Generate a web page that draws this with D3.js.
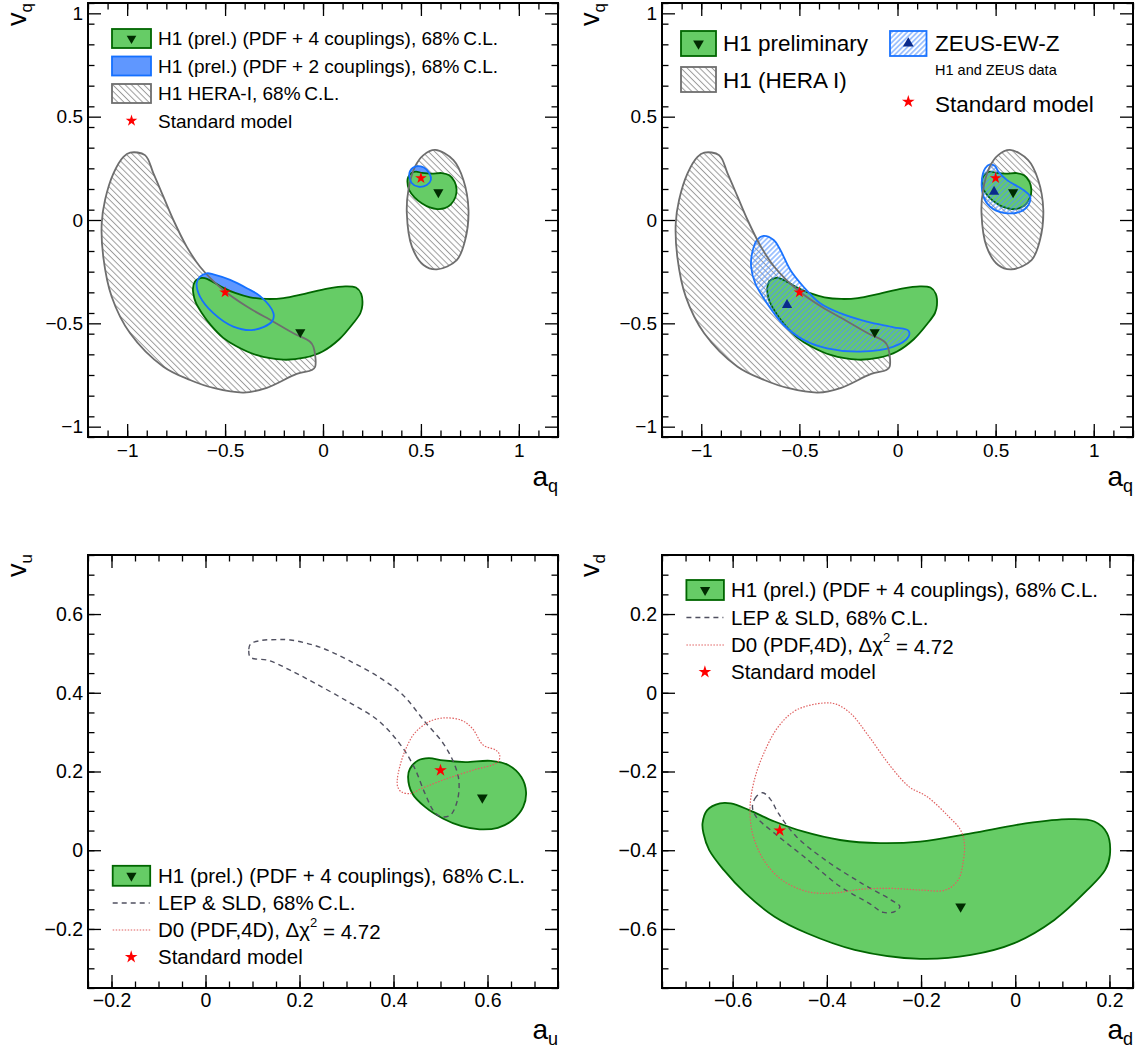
<!DOCTYPE html>
<html><head><meta charset="utf-8">
<script src="https://cdn.jsdelivr.net/npm/d3@7"></script>
<style>
body{margin:0;background:#fff}
svg{display:block}
text{font-family:"Liberation Sans",Arial,Helvetica,sans-serif;fill:#000}
</style>
</head><body>
<svg id="c" width="1139" height="1053"></svg>
<script>
// ---------------- DATA (a, v) ----------------
// H1 HERA-I 68% C.L. contours (q panels)
const heraI_d = [[-0.985,0.326],[-0.909,0.314],[-0.866,0.226],[-0.815,0.113],[-0.764,0.0],[-0.696,-0.129],[-0.628,-0.226],[-0.509,-0.339],[-0.389,-0.419],[-0.253,-0.492],[-0.151,-0.548],[-0.066,-0.589],[-0.049,-0.613],[-0.040,-0.710],[-0.057,-0.726],[-0.134,-0.745],[-0.287,-0.812],[-0.405,-0.835],[-0.554,-0.814],[-0.679,-0.774],[-0.815,-0.710],[-0.985,-0.548],[-1.079,-0.371],[-1.122,-0.178],[-1.130,-0.016],[-1.113,0.097],[-1.070,0.226],[-1.019,0.306]];
const heraI_u = [[0.573,0.339],[0.666,0.290],[0.717,0.194],[0.743,0.048],[0.726,-0.097],[0.683,-0.194],[0.581,-0.239],[0.513,-0.218],[0.454,-0.129],[0.428,0.032],[0.436,0.145],[0.470,0.258],[0.513,0.314]];
// H1 prel. PDF + 4 couplings, 68% C.L.
const h1_4c_d = [[-0.627,-0.281],[-0.654,-0.298],[-0.664,-0.332],[-0.662,-0.357],[-0.650,-0.399],[-0.619,-0.450],[-0.573,-0.509],[-0.511,-0.569],[-0.442,-0.611],[-0.341,-0.653],[-0.202,-0.676],[-0.094,-0.666],[-0.002,-0.636],[0.083,-0.577],[0.153,-0.501],[0.191,-0.450],[0.201,-0.412],[0.195,-0.357],[0.168,-0.327],[0.114,-0.321],[0.022,-0.332],[-0.094,-0.357],[-0.202,-0.378],[-0.287,-0.382],[-0.372,-0.374],[-0.449,-0.353],[-0.511,-0.327],[-0.565,-0.298],[-0.604,-0.281]];
const h1_4c_u = [[0.452,0.228],[0.435,0.207],[0.431,0.186],[0.440,0.144],[0.467,0.110],[0.506,0.080],[0.545,0.061],[0.583,0.053],[0.622,0.057],[0.653,0.076],[0.676,0.110],[0.682,0.148],[0.672,0.186],[0.645,0.216],[0.607,0.227],[0.553,0.224],[0.506,0.228],[0.475,0.234]];
// H1 prel. PDF + 2 couplings, 68% C.L.
const h1_2c_d = [[-0.628,-0.274],[-0.593,-0.258],[-0.560,-0.263],[-0.474,-0.290],[-0.389,-0.330],[-0.321,-0.368],[-0.253,-0.451],[-0.261,-0.492],[-0.355,-0.532],[-0.458,-0.516],[-0.560,-0.451],[-0.628,-0.371],[-0.645,-0.306]];
const h1_2c_u = [[0.441,0.226],[0.470,0.258],[0.513,0.255],[0.543,0.226],[0.551,0.194],[0.530,0.169],[0.487,0.161],[0.454,0.178]];
// ZEUS-EW-Z
const zeus_d = [[-0.682,-0.077],[-0.716,-0.097],[-0.741,-0.161],[-0.746,-0.226],[-0.725,-0.306],[-0.665,-0.403],[-0.580,-0.508],[-0.479,-0.580],[-0.359,-0.621],[-0.190,-0.637],[-0.020,-0.613],[0.056,-0.565],[0.056,-0.536],[-0.020,-0.519],[-0.156,-0.492],[-0.292,-0.451],[-0.394,-0.403],[-0.479,-0.323],[-0.546,-0.242],[-0.597,-0.145],[-0.631,-0.097]];
const zeus_u = [[0.472,0.269],[0.447,0.250],[0.430,0.194],[0.438,0.113],[0.472,0.064],[0.540,0.035],[0.625,0.040],[0.667,0.073],[0.676,0.113],[0.642,0.145],[0.557,0.194],[0.514,0.234],[0.497,0.261]];
// LEP & SLD 68% C.L.
const lep_u = [[0.096,0.524],[0.092,0.507],[0.096,0.490],[0.135,0.482],[0.181,0.457],[0.235,0.423],[0.305,0.376],[0.367,0.330],[0.413,0.271],[0.444,0.211],[0.467,0.144],[0.487,0.097],[0.502,0.085],[0.521,0.089],[0.536,0.127],[0.539,0.178],[0.529,0.220],[0.506,0.271],[0.467,0.326],[0.421,0.393],[0.374,0.436],[0.305,0.482],[0.243,0.516],[0.181,0.534],[0.150,0.535],[0.119,0.533]];
const lep_d = [[-0.536,-0.254],[-0.550,-0.264],[-0.558,-0.289],[-0.550,-0.315],[-0.511,-0.357],[-0.449,-0.416],[-0.372,-0.492],[-0.310,-0.535],[-0.280,-0.558],[-0.256,-0.556],[-0.245,-0.543],[-0.264,-0.526],[-0.326,-0.484],[-0.403,-0.425],[-0.465,-0.365],[-0.503,-0.306],[-0.519,-0.272]];
// D0 (PDF,4D), dchi2 = 4.72
const d0_u = [[0.409,0.161],[0.408,0.178],[0.413,0.211],[0.425,0.254],[0.444,0.296],[0.475,0.326],[0.506,0.336],[0.545,0.330],[0.568,0.309],[0.591,0.267],[0.618,0.254],[0.626,0.241],[0.622,0.224],[0.568,0.203],[0.514,0.182],[0.460,0.157],[0.436,0.144],[0.417,0.148]];
const d0_d = [[-0.407,-0.026],[-0.465,-0.044],[-0.503,-0.086],[-0.534,-0.154],[-0.554,-0.222],[-0.563,-0.289],[-0.558,-0.357],[-0.534,-0.425],[-0.496,-0.475],[-0.442,-0.505],[-0.388,-0.509],[-0.326,-0.499],[-0.264,-0.497],[-0.202,-0.501],[-0.148,-0.501],[-0.121,-0.475],[-0.110,-0.425],[-0.108,-0.382],[-0.116,-0.349],[-0.141,-0.315],[-0.187,-0.264],[-0.225,-0.239],[-0.264,-0.188],[-0.310,-0.112],[-0.349,-0.053],[-0.380,-0.029]];
// best-fit points
const h1Best = {d:[-0.116,-0.543], u:[0.589,0.134]};
const zeusBest = {d:[-0.563,-0.411], u:[0.492,0.137]};
const smPoint = {d:[-0.5,-0.35], u:[0.5,0.203]};
// tick labels
const ticksQ = [-1,-0.5,0,0.5,1];
const ticksU_x = [-0.2,0,0.2,0.4,0.6];
const ticksU_y = [-0.2,0,0.2,0.4,0.6];
const ticksD_x = [-0.6,-0.4,-0.2,0,0.2];
const ticksD_y = [-0.6,-0.4,-0.2,0,0.2];

// ---------------- STYLE ----------------
const C = {
  green:"#66cc66", greenLine:"#006600", blue:"#5f97ff", blueLine:"#1470ff",
  heraLine:"#6e6e6e", heraHatch:"#9a9a9a", zeusHatch:"#4d8fff", zeusLine:"#1a73ff",
  h1Mark:"#002b00", zeusMark:"#0a2a8c", star:"#ff0000", lep:"#505060", d0:"#e06060"
};
const FONT = "'Liberation Sans',Arial,Helvetica,sans-serif";

const svg = d3.select('#c');
const defs = svg.append('defs');
function hatch(id, color, angle, spacing, w){
  const p = defs.append('pattern').attr('id',id).attr('patternUnits','userSpaceOnUse')
    .attr('width',spacing).attr('height',spacing).attr('patternTransform',`rotate(${angle})`);
  p.append('line').attr('x1',spacing/2).attr('y1',-1).attr('x2',spacing/2).attr('y2',spacing+1)
    .attr('stroke',color).attr('stroke-width',w);
}
hatch('hHera', C.heraHatch, -45, 4.4, 1);
hatch('hZeus', C.zeusHatch, 45, 3.6, 1);

const fmt = d => d3.format("~g")(d);

function panel(cfg){
  const g = svg.append('g');
  const x = d3.scaleLinear().domain(cfg.xd).range([cfg.x0, cfg.x1]);
  const y = d3.scaleLinear().domain(cfg.yd).range([cfg.y1, cfg.y0]);
  const cid = 'clip'+cfg.id;
  defs.append('clipPath').attr('id',cid).append('rect')
    .attr('x',cfg.x0).attr('y',cfg.y0).attr('width',cfg.x1-cfg.x0).attr('height',cfg.y1-cfg.y0);
  const plot = g.append('g').attr('clip-path',`url(#${cid})`);
  const line = d3.line().x(d=>x(d[0])).y(d=>y(d[1])).curve(d3.curveCatmullRomClosed.alpha(0.5));
  return {g, x, y, plot, line, cfg};
}

function axes(P, xt, yt, xMinorStep, yMinorStep, fs, xpad){
  const {g,x,y,cfg} = P;
  const xMinor = d3.range(cfg.xd[0], cfg.xd[1]+1e-9, xMinorStep).map(v=>+v.toFixed(4));
  const yMinor = d3.range(cfg.yd[0], cfg.yd[1]+1e-9, yMinorStep).map(v=>+v.toFixed(4));
  const style = s => { s.select('.domain').remove(); s.selectAll('line').attr('stroke','#000').attr('stroke-width',1.3);
    s.selectAll('text').attr('font-size',fs).attr('font-family',FONT).attr('fill','#000'); };
  g.append('g').attr('transform',`translate(0,${cfg.y1})`).call(d3.axisBottom(x).tickValues(xMinor).tickSize(-6.5).tickFormat('')).call(style);
  g.append('g').attr('transform',`translate(0,${cfg.y1})`).call(d3.axisBottom(x).tickValues(xt).tickSize(-13).tickPadding(xpad).tickFormat(fmt)).call(style);
  g.append('g').attr('transform',`translate(0,${cfg.y0})`).call(d3.axisTop(x).tickValues(xMinor).tickSize(-6.5).tickFormat('')).call(style);
  g.append('g').attr('transform',`translate(0,${cfg.y0})`).call(d3.axisTop(x).tickValues(xt).tickSize(-13).tickFormat('')).call(style);
  g.append('g').attr('transform',`translate(${cfg.x0},0)`).call(d3.axisLeft(y).tickValues(yMinor).tickSize(-6.5).tickFormat('')).call(style);
  g.append('g').attr('transform',`translate(${cfg.x0},0)`).call(d3.axisLeft(y).tickValues(yt).tickSize(-13).tickPadding(5).tickFormat(fmt)).call(style);
  g.append('g').attr('transform',`translate(${cfg.x1},0)`).call(d3.axisRight(y).tickValues(yMinor).tickSize(-6.5).tickFormat('')).call(style);
  g.append('g').attr('transform',`translate(${cfg.x1},0)`).call(d3.axisRight(y).tickValues(yt).tickSize(-13).tickFormat('')).call(style);
  g.append('rect').attr('x',cfg.x0).attr('y',cfg.y0).attr('width',cfg.x1-cfg.x0).attr('height',cfg.y1-cfg.y0)
    .attr('fill','none').attr('stroke','#000').attr('stroke-width',2);
}

function titles(P, xa, xsub, xBase, ya, ysub, yX, yEnd){
  const {g,cfg} = P;
  const tx = g.append('text').attr('x',cfg.x1).attr('y',xBase).attr('text-anchor','end').attr('font-size',28);
  tx.append('tspan').text(xa);
  tx.append('tspan').attr('font-size',18).attr('dy',6).text(xsub);
  const ty = g.append('text').attr('transform',`translate(${yX},${yEnd}) rotate(-90)`).attr('text-anchor','end').attr('font-size',27);
  ty.append('tspan').text(ya);
  ty.append('tspan').attr('font-size',17).attr('dy',6).text(ysub);
}

function triDown(g, px, py, size, color){
  g.append('path').attr('d', d3.symbol().type(d3.symbolTriangle).size(size)())
    .attr('transform',`translate(${px},${py}) rotate(180)`).attr('fill',color);
}
function triUp(g, px, py, size, color){
  g.append('path').attr('d', d3.symbol().type(d3.symbolTriangle).size(size)())
    .attr('transform',`translate(${px},${py})`).attr('fill',color);
}
function star(g, px, py, size){
  g.append('path').attr('d', d3.symbol().type(d3.symbolStar).size(size)())
    .attr('transform',`translate(${px},${py})`).attr('fill',C.star);
}

function region(P, data, fill, stroke, sw, dash){
  return P.plot.append('path').attr('d', P.line(data)).attr('fill',fill||'none')
    .attr('stroke',stroke||'none').attr('stroke-width',sw||0).attr('stroke-dasharray',dash||null)
    .attr('stroke-linejoin','round');
}

// ---------------- PANELS ----------------
const PTL = panel({id:'tl', x0:88, x1:558, y0:3, y1:437, xd:[-1.2,1.2], yd:[-1.05,1.05]});
const PTR = panel({id:'tr', x0:662, x1:1133, y0:3, y1:437, xd:[-1.2,1.2], yd:[-1.05,1.05]});
const PBL = panel({id:'bl', x0:88, x1:558, y0:555, y1:988, xd:[-0.25,0.75], yd:[-0.35,0.75]});
const PBR = panel({id:'br', x0:662, x1:1133, y0:555, y1:988, xd:[-0.75,0.25], yd:[-0.75,0.35]});

// Top-left
[heraI_d, heraI_u].forEach(d=>region(PTL,d,'url(#hHera)'));
[h1_2c_d, h1_2c_u].forEach(d=>region(PTL,d,C.blue));
[h1_4c_d, h1_4c_u].forEach(d=>region(PTL,d,C.green,C.greenLine,1.8));
[heraI_d, heraI_u].forEach(d=>region(PTL,d,null,C.heraLine,1.8));
[h1_2c_d, h1_2c_u].forEach(d=>region(PTL,d,null,C.blueLine,1.8));
['d','u'].forEach(k=>triDown(PTL.plot, PTL.x(h1Best[k][0]), PTL.y(h1Best[k][1]), 45, C.h1Mark));
['d','u'].forEach(k=>star(PTL.plot, PTL.x(smPoint[k][0]), PTL.y(smPoint[k][1]), 42));

// Top-right
[heraI_d, heraI_u].forEach(d=>region(PTR,d,'url(#hHera)'));
[h1_4c_d, h1_4c_u].forEach(d=>region(PTR,d,C.green,C.greenLine,1.8));
[zeus_d, zeus_u].forEach(d=>region(PTR,d,'url(#hZeus)',C.zeusLine,1.8));
[heraI_d, heraI_u].forEach(d=>region(PTR,d,null,C.heraLine,1.8));
['d','u'].forEach(k=>triDown(PTR.plot, PTR.x(h1Best[k][0]), PTR.y(h1Best[k][1]), 45, C.h1Mark));
['d','u'].forEach(k=>triUp(PTR.plot, PTR.x(zeusBest[k][0]), PTR.y(zeusBest[k][1]), 45, C.zeusMark));
['d','u'].forEach(k=>star(PTR.plot, PTR.x(smPoint[k][0]), PTR.y(smPoint[k][1]), 42));

// Bottom-left (u)
region(PBL,h1_4c_u,C.green,C.greenLine,1.8);
region(PBL,lep_u,null,C.lep,1.4,'5,4');
region(PBL,d0_u,null,C.d0,1.2,'1.5,1.5');
triDown(PBL.plot, PBL.x(h1Best.u[0]), PBL.y(h1Best.u[1]), 50, C.h1Mark);
star(PBL.plot, PBL.x(smPoint.u[0]), PBL.y(smPoint.u[1]), 50);

// Bottom-right (d)
region(PBR,h1_4c_d,C.green,C.greenLine,1.8);
region(PBR,lep_d,null,C.lep,1.4,'5,4');
region(PBR,d0_d,null,C.d0,1.2,'1.5,1.5');
triDown(PBR.plot, PBR.x(h1Best.d[0]), PBR.y(h1Best.d[1]), 50, C.h1Mark);
star(PBR.plot, PBR.x(smPoint.d[0]), PBR.y(smPoint.d[1]), 50);

axes(PTL, ticksQ, ticksQ, 0.1, 0.1, 19, 7);
axes(PTR, ticksQ, ticksQ, 0.1, 0.1, 19, 7);
axes(PBL, ticksU_x, ticksU_y, 0.05, 0.05, 19.5, 5);
axes(PBR, ticksD_x, ticksD_y, 0.05, 0.05, 19.5, 5);

titles(PTL,'a','q',486,'v','q',26,3);
titles(PTR,'a','q',486,'v','q',599,3);
titles(PBL,'a','u',1039,'v','u',26,554);
titles(PBR,'a','d',1039,'v','d',599,554);

// ---------------- LEGENDS ----------------
const L = svg.append('g');
function ltext(x, y, fs, str){ return L.append('text').attr('x',x).attr('y',y).attr('dy','0.35em').attr('font-size',fs).text(str); }
function lbox(x, y, w, h, fill, stroke){ L.append('rect').attr('x',x).attr('y',y).attr('width',w).attr('height',h).attr('fill',fill).attr('stroke',stroke).attr('stroke-width',1.8); }
const CL = '68%\u2009C.L.';

// top-left
lbox(112,29,39,19,C.green,C.greenLine); triDown(L,131.5,38.5,40,C.h1Mark);
ltext(158,38,19,`H1 (prel.) (PDF + 4 couplings), ${CL}`);
lbox(112,56.5,39,19,C.blue,C.blueLine);
ltext(158,66,19,`H1 (prel.) (PDF + 2 couplings), ${CL}`);
lbox(112,84,39,19,'url(#hHera)',C.heraLine);
ltext(158,93.5,19,`H1 HERA-I, ${CL}`);
star(L,131.5,120.7,42);
ltext(158,121,19,'Standard model');

// top-right
lbox(681,31,35,25,C.green,C.greenLine); triDown(L,698.5,43.5,50,C.h1Mark);
ltext(723,43.5,22.5,'H1 preliminary');
lbox(681,67,35,25,'url(#hHera)',C.heraLine);
ltext(723,80,22.5,'H1 (HERA I)');
lbox(890,31,36.5,25,'url(#hZeus)',C.zeusLine); triUp(L,908.3,43.5,50,C.zeusMark);
ltext(935,43.5,22.5,'ZEUS-EW-Z');
ltext(935,70,14.5,'H1 and ZEUS data');
star(L,908.3,101.7,50);
ltext(935,104,22.5,'Standard model');

// bottom legends
function bottomLegend(bx, tx, r){
  lbox(bx,r[0]-10,37.5,20,C.green,C.greenLine); triDown(L,bx+18.7,r[0],45,C.h1Mark);
  ltext(tx,r[0],20.5,`H1 (prel.) (PDF + 4 couplings), ${CL}`);
  L.append('line').attr('x1',bx).attr('x2',bx+37).attr('y1',r[1]).attr('y2',r[1]).attr('stroke',C.lep).attr('stroke-width',1.4).attr('stroke-dasharray','5,4');
  ltext(tx,r[1],20.5,`LEP & SLD, ${CL}`);
  L.append('line').attr('x1',bx).attr('x2',bx+37.5).attr('y1',r[2]).attr('y2',r[2]).attr('stroke',C.d0).attr('stroke-width',1.2).attr('stroke-dasharray','1.5,1.5');
  const t = ltext(tx,r[2],20.5,'D0 (PDF,4D), Δχ');
  t.append('tspan').attr('font-size',13).attr('dy','-0.75em').text('2');
  t.append('tspan').attr('dy','0.55em').text(' = 4.72');
  star(L,bx+18.5,r[3],50);
  ltext(tx,r[3],20.5,'Standard model');
}
bottomLegend(112.7,158,[875.8,903,930,957]);
bottomLegend(686.4,731,[590,617.5,645,672]);
</script>
</body></html>
